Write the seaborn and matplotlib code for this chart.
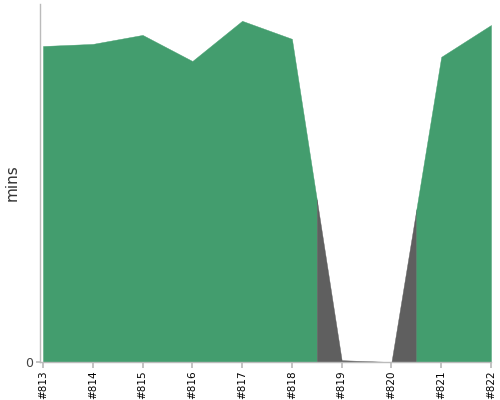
import numpy as np
import pandas as pd
import matplotlib
matplotlib.use("Agg")
import matplotlib.pyplot as plt
import seaborn as sns

builds = ["#813", "#814", "#815", "#816", "#817", "#818", "#819", "#820", "#821", "#822"]
durations = [10.53, 10.60, 10.90, 10.03, 11.37, 10.77, 0.06, 0.0, 10.17, 11.23]
status = ["success"] * 6 + ["failure"] * 2 + ["success"] * 2
ylim_top = 11.93

colors = {"success": "#439D6E", "failure": "#5F5F5F"}

df = pd.DataFrame({"build": builds, "mins": durations, "status": status})
df["pos"] = np.arange(len(df))

sns.set_theme(style="white")
fig, ax = plt.subplots(figsize=(5, 4), dpi=100)
fig.subplots_adjust(left=0.08, right=0.982, bottom=0.095, top=0.99)

sns.lineplot(data=df, x="pos", y="mins", ax=ax, color=colors["success"], linewidth=0)

x = df["pos"].to_numpy(dtype=float)
y = df["mins"].to_numpy(dtype=float)
n = len(x)

# group contiguous runs of the same status
runs = []
start = 0
for i in range(1, n + 1):
    if i == n or status[i] != status[start]:
        runs.append((start, i - 1, status[start]))
        start = i

for a, b, st in runs:
    lo = max(x[0], x[a] - 0.5)
    hi = min(x[-1], x[b] + 0.5)
    xs = [lo] + [v for v in x if lo < v < hi] + [hi]
    ys = np.interp(xs, x, y)
    ax.fill_between(xs, 0, ys, color=colors[st], linewidth=0.3, edgecolor=colors[st])

ax.set_xlim(-0.06, n - 1)
ax.set_ylim(0, ylim_top)
ax.set_xticks(x)
ax.set_xticklabels(builds, rotation=90, fontsize=7.5, color="black")
ax.set_yticks([0])
ax.set_yticklabels(["0"], fontsize=9, color="#444444")
ax.set_xlabel("")
ax.set_ylabel("mins", fontsize=11, color="#333333")

for s in ["top", "right"]:
    ax.spines[s].set_visible(False)
for s in ["left", "bottom"]:
    ax.spines[s].set_color("#BBBBBB")
    ax.spines[s].set_linewidth(1)
ax.tick_params(axis="x", bottom=True, length=4, color="#BBBBBB", pad=2)
ax.tick_params(axis="y", left=True, length=3, color="#BBBBBB", pad=2)

fig.savefig("out.png", dpi=100)
